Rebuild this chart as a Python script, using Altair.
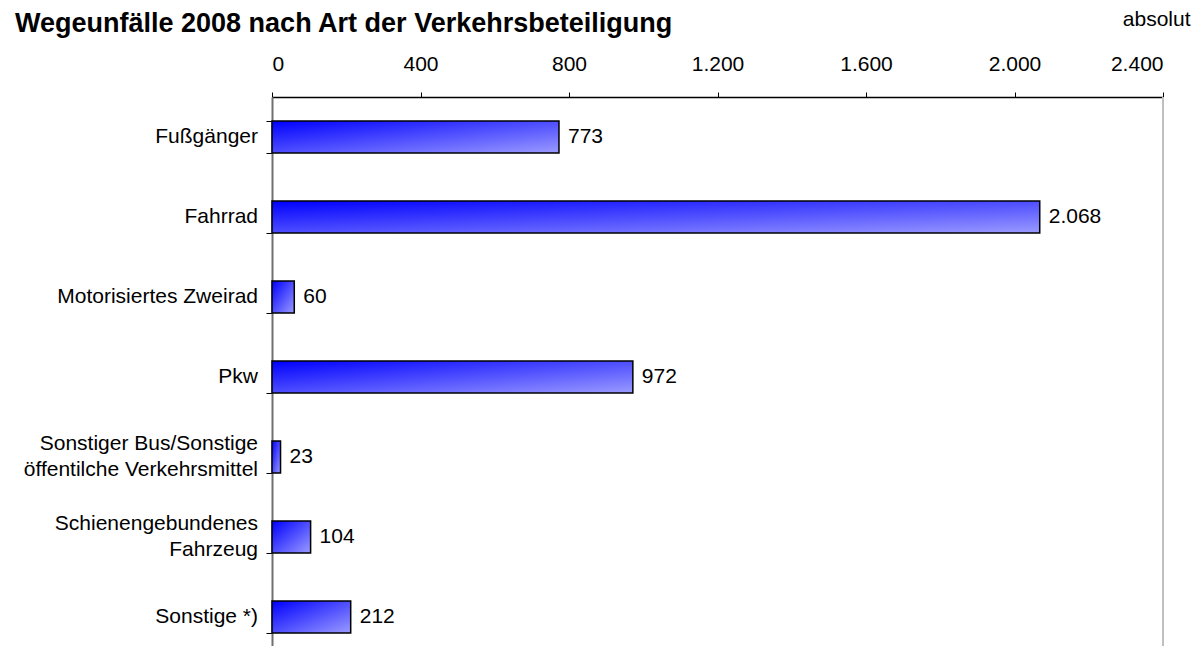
import altair as alt
import pandas as pd

categories = [
    "Fußgänger",
    "Fahrrad",
    "Motorisiertes Zweirad",
    "Pkw",
    "Sonstiger Bus/Sonstige|öffentilche Verkehrsmittel",
    "Schienengebundenes|Fahrzeug",
    "Sonstige *)",
]
values = [773, 2068, 60, 972, 23, 104, 212]
x_ticks = [0, 400, 800, 1200, 1600, 2000, 2400]

df = pd.DataFrame({"cat": categories, "value": values})

FONT = "Liberation Sans"
FS = 21

gradient = alt.Gradient(
    gradient="linear",
    stops=[
        alt.GradientStop(color="#0000ff", offset=0),
        alt.GradientStop(color="#9a9aff", offset=1),
    ],
    x1=0, y1=0, x2=1, y2=1,
)

num_expr = "replace(format(datum.value, ','), ',', '.')"

x_enc = alt.X(
    "value:Q",
    scale=alt.Scale(domain=[0, 2400], nice=False, zero=True),
    axis=alt.Axis(
        orient="top",
        values=x_ticks,
        labelExpr=num_expr,
        grid=False,
        tickSize=5,
        tickColor="#000000",
        domainColor="#000000",
        domainWidth=1.5,
        labelPadding=18,
        labelFontSize=FS,
        labelFont=FONT,
        labelColor="#000000",
        title="absolut",
        titleFont=FONT,
        titleFontSize=FS,
        titleFontWeight="normal",
        titleColor="#000000",
        titleAlign="right",
        titleAnchor="end",
        titleX=918,
        titleY=-72,
        titleBaseline="alphabetic",
    ),
)

y_scale = alt.Scale(range=[0, 560], paddingInner=0.6, paddingOuter=0.3)

y_enc = alt.Y(
    "cat:N",
    sort=categories,
    scale=y_scale,
    axis=alt.Axis(
        title=None,
        tickBand="extent",
        tickSize=6,
        tickColor="#000000",
        domainColor="#707070",
        domainWidth=2,
        labels=False,
    ),
)

bars = alt.Chart(df).mark_bar(
    fill=gradient, stroke="#000000", strokeWidth=1.5
).encode(x=x_enc, y=y_enc)

texts = alt.Chart(df).transform_calculate(
    label=num_expr
).mark_text(
    align="left", baseline="middle", dx=9, font=FONT, fontSize=FS, color="#000000"
).encode(x="value:Q", y=alt.Y("cat:N", sort=categories), text="label:N")

cat_single = alt.Chart(df).transform_filter(
    "indexof(datum.cat, '|') < 0"
).mark_text(
    align="right", baseline="middle", dx=-14, font=FONT, fontSize=FS, color="#000000"
).encode(x=alt.value(0), y=alt.Y("cat:N", sort=categories), text="cat:N")

cat_multi = alt.Chart(df).transform_filter(
    "indexof(datum.cat, '|') >= 0"
).mark_text(
    align="right", baseline="middle", dx=-14, dy=-13, lineBreak="|", lineHeight=26,
    font=FONT, fontSize=FS, color="#000000"
).encode(x=alt.value(0), y=alt.Y("cat:N", sort=categories), text="cat:N")

grid_right = alt.Chart(pd.DataFrame({"v": [2400]})).mark_rule(
    color="#c0c0c0", strokeWidth=2
).encode(x="v:Q", y=alt.value(0), y2=alt.value(560))

chart = alt.layer(grid_right, bars, texts, cat_single, cat_multi).properties(
    width=891,
    height=549,
    title=alt.TitleParams(
        text="Wegeunfälle 2008 nach Art der Verkehrsbeteiligung",
        anchor="start",
        frame="group",
        dx=-257,
        dy=30,
        font=FONT,
        fontSize=27,
        fontWeight="bold",
        color="#000000",
        offset=0,
    ),
    autosize=alt.AutoSizeParams(type="none"),
    padding={"left": 264, "top": 89, "right": 30, "bottom": 0},
).configure_view(stroke=None)

chart.save("out.html", embed_options={"renderer": "svg", "actions": False})
